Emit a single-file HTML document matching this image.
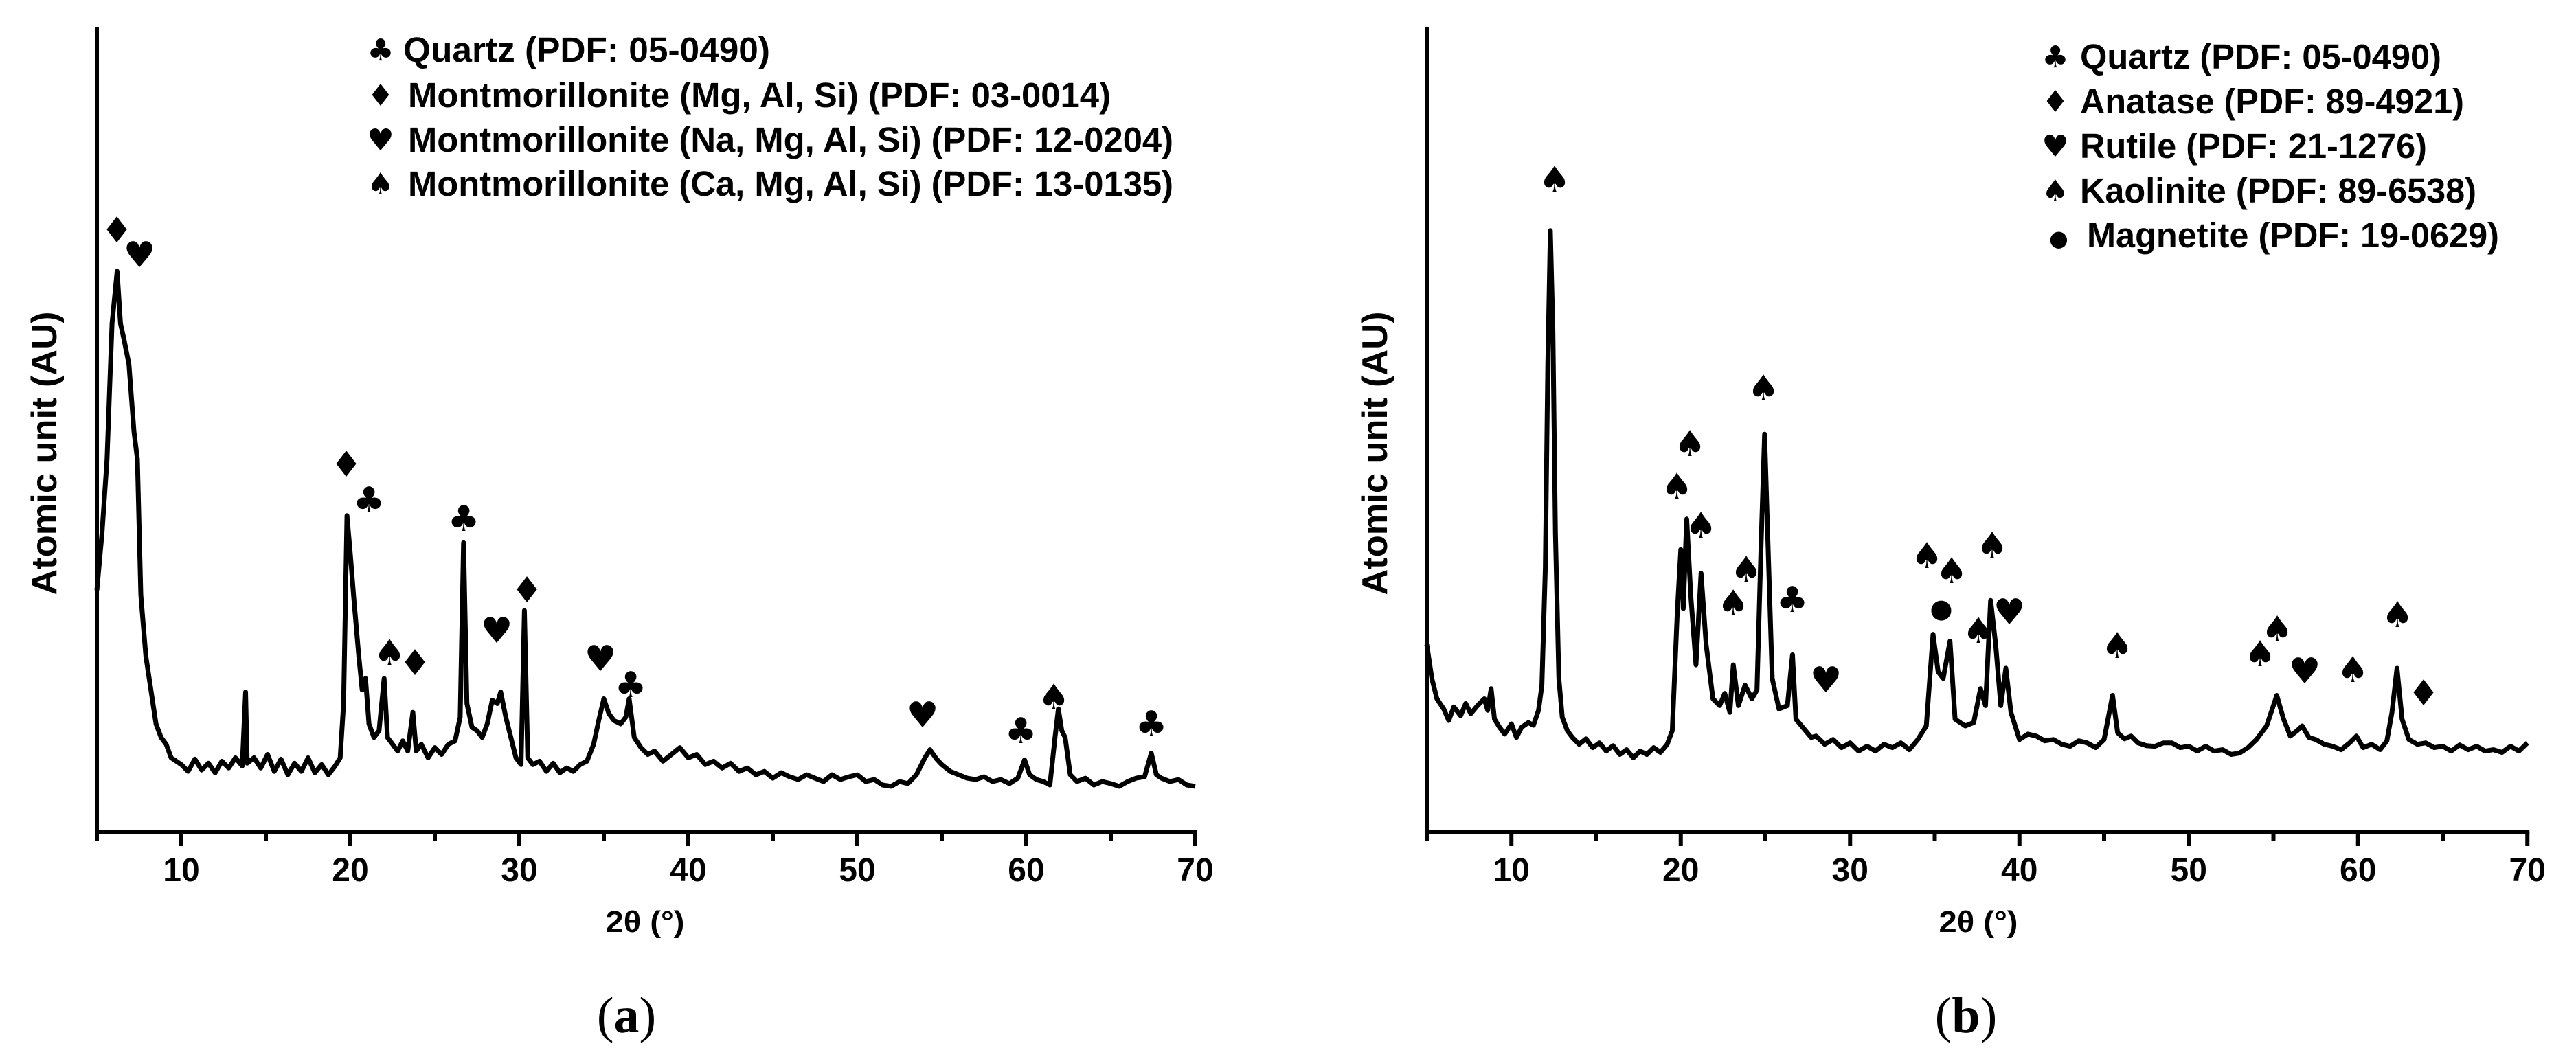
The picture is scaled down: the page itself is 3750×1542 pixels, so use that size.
<!DOCTYPE html>
<html><head><meta charset="utf-8"><style>
html,body{margin:0;padding:0;background:#fff;}
svg{display:block;}
</style></head>
<body>
<svg id="fig" width="3750" height="1542" viewBox="0 0 3750 1542" xmlns="http://www.w3.org/2000/svg" style="font-family:'Liberation Sans',Arial,sans-serif">
<rect width="3750" height="1542" fill="#fff"/>
<g id="panelA"></g>
<g id="panelB"></g>
</svg>
<script>
// ---------- Panel (a) data ----------
const angleA = [5,5.3,5.6,5.9,6.2,6.4,6.6,6.9,7.2,7.4,7.6,7.9,8.2,8.5,8.8,9.1,9.4,9.7,10,10.4,10.8,11.2,11.6,12,12.4,12.8,13.2,13.6,13.8,13.9,14.3,14.7,15.1,15.5,15.9,16.3,16.7,17.1,17.5,17.9,18.3,18.7,19.1,19.4,19.6,19.8,20,20.2,20.5,20.7,20.9,21.1,21.4,21.7,22,22.2,22.5,22.8,23.1,23.4,23.7,23.9,24.2,24.6,25,25.4,25.8,26.2,26.5,26.7,26.9,27.2,27.5,27.8,28.1,28.4,28.7,28.9,29.2,29.5,29.8,30.1,30.3,30.5,30.8,31.2,31.6,32,32.4,32.8,33.2,33.6,34,34.4,34.7,35,35.3,35.6,36,36.3,36.5,36.8,37.2,37.6,38,38.5,39,39.5,40,40.5,41,41.5,42,42.5,43,43.5,44,44.5,45,45.5,46,46.5,47,47.5,48,48.5,49,49.5,50,50.5,51,51.5,52,52.5,53,53.5,54,54.3,54.7,55,55.5,56,56.5,57,57.5,58,58.5,59,59.5,59.9,60.2,60.6,61,61.4,61.7,61.9,62.1,62.3,62.6,63,63.5,64,64.5,65,65.5,66,66.5,67,67.4,67.7,68,68.5,69,69.5,70];
const intensityA = [367,450,560,760,837,760,737,700,600,560,360,270,220,170,150,140,120,115,110,100,118,102,112,98,115,105,120,108,217,112,120,105,125,100,118,95,112,100,120,98,110,95,108,120,200,477,420,357,270,220,237,170,150,160,237,150,140,130,145,130,187,130,140,120,135,125,140,145,180,437,200,165,160,150,170,205,200,217,180,150,120,110,337,120,110,115,100,112,98,105,100,110,115,140,175,207,185,175,170,180,207,150,135,125,130,115,125,135,120,125,110,115,105,112,100,105,95,100,90,98,92,88,95,90,85,95,88,92,95,85,88,80,78,85,82,95,120,132,118,110,100,95,90,88,92,85,88,82,90,117,95,88,85,80,150,192,160,150,95,85,90,80,85,82,78,85,90,92,127,95,90,85,88,80,78];
const symA = ["♦","♥","♦","♣","♣","♦","♥","♠","♦","♥","♣","♥","♣","♠","♣"];
const symAx = [170,203,504,537,675,767,723,567,604,874,918,1343,1486,1534,1676];
const symAy = [336,372,677,729,756,860,919,951,966,960,998,1042,1065,1016,1055];
const legendA = ["Quartz (PDF: 05-0490)","Montmorillonite (Mg, Al, Si) (PDF: 03-0014)","Montmorillonite (Na, Mg, Al, Si) (PDF: 12-0204)","Montmorillonite (Ca, Mg, Al, Si) (PDF: 13-0135)"];
const legendASym = ["♣","♦","♥","♠"];

// ---------- Panel (b) data ----------
const angleB = [5,5.3,5.6,6,6.3,6.6,7,7.3,7.6,8,8.4,8.6,8.8,9,9.3,9.6,10,10.3,10.6,11,11.3,11.6,11.8,12,12.15,12.3,12.45,12.6,12.8,13,13.3,13.6,14,14.4,14.8,15.2,15.6,16,16.4,16.8,17.2,17.6,18,18.4,18.8,19.2,19.5,19.8,20,20.15,20.35,20.6,20.9,21.2,21.5,21.9,22.3,22.6,22.9,23.1,23.4,23.8,24.2,24.5,24.75,24.95,25.15,25.4,25.8,26.3,26.6,26.8,27.3,27.7,28,28.5,29,29.5,30,30.5,31,31.5,32,32.5,33,33.5,34,34.5,34.9,35.2,35.5,35.9,36.2,36.8,37.3,37.7,38,38.3,38.6,38.9,39.2,39.5,40,40.5,41,41.5,42,42.5,43,43.5,44,44.5,45,45.5,45.8,46.2,46.6,47,47.5,48,48.5,49,49.5,50,50.5,51,51.5,52,52.5,53,53.5,54,54.6,55,55.2,55.6,56,56.4,56.7,57.1,57.5,58,58.5,59,59.5,59.9,60.3,60.8,61.3,61.7,62,62.3,62.6,63,63.5,64,64.5,65,65.5,66,66.5,67,67.5,68,68.5,69,69.5,70];
const intensityB = [287,237,207,192,175,195,182,200,185,197,207,190,222,177,165,155,170,150,165,172,168,190,227,400,700,897,750,450,237,180,160,150,140,148,135,142,130,138,125,132,120,130,125,135,128,140,160,337,427,340,472,357,257,392,287,207,197,215,187,257,197,227,207,220,437,597,437,237,192,197,272,177,162,150,152,140,147,135,142,130,137,130,140,135,142,132,147,167,302,247,237,292,177,167,172,222,197,352,287,197,252,187,147,155,152,145,147,140,137,145,142,135,147,212,157,148,152,142,138,137,142,142,135,137,130,137,130,132,125,127,135,147,167,197,212,177,152,160,167,150,147,140,137,132,142,152,135,140,132,145,187,252,177,147,140,142,135,137,130,139,132,137,130,132,128,137,130,142];
const symB = ["♠","♠","♠","♠","♠","♠","♠","♣","♥","♠","♠","●","♠","♥","♠","♠","♠","♠","♥","♠","♠","♦"];
const symBx = [2263,2567,2460,2441,2476,2542,2523,2609,2658,2805,2841,2826,2900,2925,2880,3082,3290,3315,3355,3425,3490,3528];
const symBy = [262,566,647,709,766,830,879,874,991,810,832,882,795,892,919,941,953,917,978,976,896,1010];
const legendB = ["Quartz (PDF: 05-0490)","Anatase (PDF: 89-4921)","Rutile (PDF: 21-1276)","Kaolinite (PDF: 89-6538)","Magnetite (PDF: 19-0629)"];
const legendBSym = ["♣","♦","♥","♠","●"];

const xTicks = [10,20,30,40,50,60,70];
const xMinor = [5,15,25,35,45,55,65];

const NS = "http://www.w3.org/2000/svg";
function mk(tag, attrs, parent, txt){
  const e = document.createElementNS(NS, tag);
  for (const k in attrs) e.setAttribute(k, attrs[k]);
  if (txt !== undefined) e.textContent = txt;
  parent.appendChild(e);
  return e;
}
const SYMFONT = "font-family:'DejaVu Sans',sans-serif";

function drawPanel(g, cfg){
  const x0 = cfg.x0, pxPerDeg = cfg.ppd, axisY = 1212, topY = 40;
  const xs = v => x0 + (v - 5) * pxPerDeg;
  const ys = v => 1222 - v * 0.988;
  const xEnd = xs(70);

  let d = "";
  cfg.ang.forEach((a, i) => { d += (i ? "L" : "M") + xs(a).toFixed(1) + "," + ys(cfg.inten[i]).toFixed(1); });
  const line = mk("path", {d: d, fill: "none", stroke: "#000", "stroke-width": 7, "stroke-linejoin": "round"}, g);
  
  

  const ya = mk("line", {x1: x0, y1: topY, x2: x0, y2: axisY + 3, stroke: "#000", "stroke-width": 6}, g);
  
  
  const xa = mk("line", {x1: x0 - 3, y1: axisY, x2: xEnd + 3, y2: axisY, stroke: "#000", "stroke-width": 6}, g);
  
  

  xTicks.forEach(t => {
    const tk = mk("line", {x1: xs(t), y1: axisY, x2: xs(t), y2: axisY + 20, stroke: "#000", "stroke-width": 6}, g);
    
    
    const tl = mk("text", {x: xs(t), y: 1283, "text-anchor": "middle", "font-size": 48, "font-weight": "bold"}, g, String(t));
    
    
  });
  xMinor.forEach(t => {
    const tk = mk("line", {x1: xs(t), y1: axisY, x2: xs(t), y2: axisY + 12, stroke: "#000", "stroke-width": 6}, g);
    
    
  });

  const xl = mk("text", {x: cfg.xlabX, y: 1357, "text-anchor": "middle", "font-size": 44, "font-weight": "bold", textLength: 115, lengthAdjust: "spacingAndGlyphs"}, g, "2θ (°)");
  
  

  const yl = mk("text", {x: 0, y: 0, "text-anchor": "middle", "font-size": 52, "font-weight": "bold", textLength: 413, lengthAdjust: "spacingAndGlyphs", transform: "translate(" + (cfg.ylabX + 19) + ",660) rotate(-90)"}, g, "Atomic unit (AU)");
  
  

  cfg.sym.forEach((s, i) => {
    const big = s === "●" ? 38 : 52;
    const st = mk("text", {x: cfg.sx[i], y: cfg.sy[i] + 17, "text-anchor": "middle", "font-size": big, style: SYMFONT}, g, s);
    
    
  });

  cfg.leg.forEach((s, i) => {
    const by = cfg.legY[i];
    const dot = cfg.legSym[i] === "●";
    const ls = mk("text", {x: cfg.legSymX + (dot ? 5 : 0), y: by - 2, "text-anchor": "middle", "font-size": dot ? 32 : 44, style: SYMFONT}, g, cfg.legSym[i]);
    
    
    const lt = mk("text", {x: cfg.legTx[i], y: by, "font-size": 51, "font-weight": "bold", textLength: cfg.legW[i], lengthAdjust: "spacingAndGlyphs"}, g, s);
    
    
  });

  const cap = mk("text", {x: cfg.capX, y: 1503, "text-anchor": "middle", "font-size": 74, style: "font-family:'Liberation Serif',serif"}, g);
  
  
  mk("tspan", {}, cap, "(");
  mk("tspan", {"font-weight": "bold"}, cap, cfg.capL);
  mk("tspan", {}, cap, ")");
}

drawPanel(document.getElementById("panelA"), {
  p: "panel-a", x0: 141, ppd: 24.6, ang: angleA, inten: intensityA,
  sym: symA, sx: symAx, sy: symAy,
  leg: legendA, legSym: legendASym, legY: [90,156,221,285], legSymX: 554,
  legTx: [587,594,594,594], legW: [534,1023,1114,1114],
  xlabX: 939, ylabX: 63, capX: 912, capL: "a"
});
drawPanel(document.getElementById("panelB"), {
  p: "panel-b", x0: 2077, ppd: 24.65, ang: angleB, inten: intensityB,
  sym: symB, sx: symBx, sy: symBy,
  leg: legendB, legSym: legendBSym, legY: [100,165,230,295,360], legSymX: 2992,
  legTx: [3028,3028,3028,3028,3038], legW: [526,559,505,577,600],
  xlabX: 2880, ylabX: 2000, capX: 2862, capL: "b"
});
</script>
</body></html>
